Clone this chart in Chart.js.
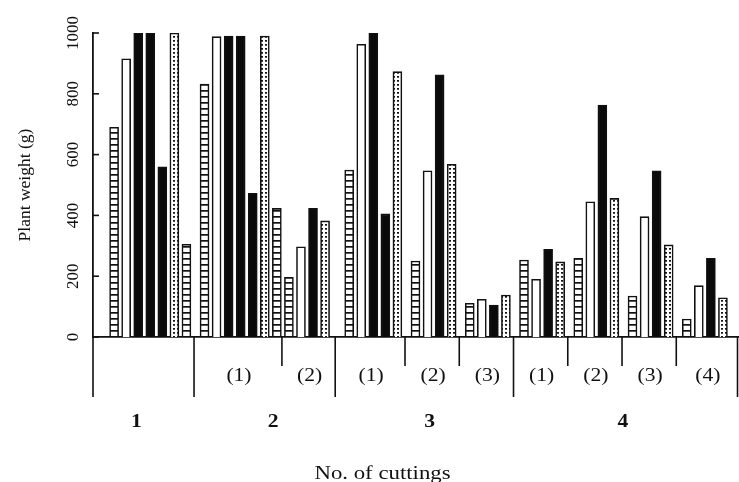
<!DOCTYPE html>
<html><head><meta charset="utf-8">
<script src="https://cdn.jsdelivr.net/npm/chart.js@4"></script>
<style>html,body{margin:0;padding:0;background:#fff}#wrap{width:739px;height:482px;position:relative}</style>
</head><body><div id="wrap"><canvas id="c" width="739" height="482" style="width:739px;height:482px"></canvas></div>
<script>
// ---- data ----
const cuttingLabels = ['1', '2', '3', '4'];
const subLabels = ['', '(1)', '(2)', '(1)', '(2)', '(3)', '(1)', '(2)', '(3)', '(4)'];
const groupCutting = [0, 1, 1, 2, 2, 2, 3, 3, 3, 3];
// bar fill kinds: S = horizontal-striped, O = open, B = solid black, D = dotted
const groupKinds = [
  ['S','O','B','B','B','D','S'],
  ['S','O','B','B','B','D','S'],
  ['S','O','B','D'],
  ['S','O','B','B','D'],
  ['S','O','B','D'],
  ['S','O','B','D'],
  ['S','O','B','D'],
  ['S','O','B','D'],
  ['S','O','B','D'],
  ['S','O','B','D']
];
const groupValues = [
  [690, 915, 1000, 1000, 560, 1000, 305],
  [832, 988, 990, 990, 473, 990, 423],
  [196, 297, 423, 382],
  [549, 963, 1000, 405, 873],
  [250, 547, 862, 568],
  [111, 124, 105, 138],
  [253, 190, 288, 247],
  [259, 445, 763, 456],
  [135, 396, 547, 303],
  [59, 169, 259, 129]
];
const yTicks = [0, 200, 400, 600, 800, 1000];
const yTitle = 'Plant weight (g)';
const xTitle = 'No. of cuttings';

// ---- layout of category slots (spacing only) ----
const LEAD = 3, STEP = 2, TRAIL = 2;
const GAPS = [3, 2, 4, 3, 3, 3, 3, 3, 3];
const slotLabels = [], slotValues = [], slotKinds = [];
const groupFirst = [], groupLast = [];
function pushSlot(v, k){ slotLabels.push('s' + slotLabels.length); slotValues.push(v); slotKinds.push(k); }
for (let i = 0; i < LEAD; i++) pushSlot(null, null);
groupValues.forEach((vals, g) => {
  if (g > 0) for (let i = 0; i < GAPS[g - 1] - 1; i++) pushSlot(null, null);
  vals.forEach((v, j) => {
    if (j > 0) for (let i = 0; i < STEP - 1; i++) pushSlot(null, null);
    if (j === 0) groupFirst.push(slotLabels.length);
    if (j === vals.length - 1) groupLast.push(slotLabels.length);
    pushSlot(v, groupKinds[g][j]);
  });
});
for (let i = 0; i < TRAIL; i++) pushSlot(null, null);

// ---- fills ----
function makePattern(kind){
  const c = document.createElement('canvas');
  const g = c.getContext('2d');
  if (kind === 'S') {
    c.width = 4; c.height = 6;
    g.fillStyle = '#fff'; g.fillRect(0, 0, 4, 6);
    g.fillStyle = '#111'; g.fillRect(0, 0, 4, 1.7);
  } else {
    c.width = 4; c.height = 4;
    g.fillStyle = '#fff'; g.fillRect(0, 0, 4, 4);
    g.fillStyle = '#111'; g.fillRect(1, 0, 2, 1.7);
  }
  return g.createPattern(c, 'repeat');
}
const ctx = document.getElementById('c').getContext('2d');
const fills = { S: makePattern('S'), D: makePattern('D'), O: '#ffffff', B: '#0a0a0a' };
const bg = slotKinds.map(k => k ? fills[k] : 'rgba(0,0,0,0)');

const SERIF = '"Liberation Serif", "DejaVu Serif", serif';

const decor = {
  id: 'decor',
  afterDraw(chart) {
    const c = chart.ctx, x = chart.scales.x, y = chart.scales.y, a = chart.chartArea;
    c.save();
    c.strokeStyle = '#111'; c.lineWidth = 1.6;
    // inward y ticks
    yTicks.forEach(v => {
      const py = y.getPixelForValue(v);
      c.beginPath(); c.moveTo(a.left, py); c.lineTo(a.left + 6, py); c.stroke();
    });
    // group boundaries
    const bounds = [a.left];
    for (let g = 0; g < groupFirst.length - 1; g++) {
      const p0 = x.getPixelForValue(groupLast[g]), p1 = x.getPixelForValue(groupFirst[g + 1]);
      bounds.push(p0 + (p1 - p0) * 0.42);
    }
    bounds.push(a.right - 0.5);
    const base = a.bottom;
    bounds.forEach((bx, i) => {
      const major = i === 0 || i === bounds.length - 1 || groupCutting[i] !== groupCutting[i - 1];
      c.beginPath(); c.moveTo(bx, base); c.lineTo(bx, base + (major ? 60 : 29)); c.stroke();
    });
    c.fillStyle = '#111';
    c.textAlign = 'center'; c.textBaseline = 'middle';
    function stretchText(t, px, py, font, sx) {
      c.save(); c.font = font; c.translate(px, py); c.scale(sx, 1); c.fillText(t, 0, 0); c.restore();
    }
    const centers = subLabels.map((t, g) => (bounds[g] + bounds[g + 1]) / 2);
    subLabels.forEach((t, g) => {
      if (!t) return;
      stretchText(t, centers[g] + 1, base + 39, '18px ' + SERIF, 1.2);
    });
    cuttingLabels.forEach((t, ci) => {
      const cs = centers.filter((_, g) => groupCutting[g] === ci);
      const cx = cs.reduce((s, v) => s + v, 0) / cs.length;
      stretchText(t, cx - (cs.length === 1 ? 7 : 0), base + 85, 'bold 18px ' + SERIF, 1.2);
    });
    c.textBaseline = 'alphabetic';
    stretchText(xTitle, (a.left + a.right) / 2 - 33, base + 142, '19px ' + SERIF, 1.2);
    c.restore();
  }
};

new Chart(ctx, {
  type: 'bar',
  data: {
    labels: slotLabels,
    datasets: [{
      data: slotValues,
      backgroundColor: bg,
      borderColor: '#111',
      borderWidth: 1.6,
      borderSkipped: 'bottom',
      barThickness: 9
    }]
  },
  options: {
    responsive: false,
    animation: false,
    devicePixelRatio: 1,
    layout: { padding: { top: 33, right: 1, left: 0, bottom: 0 } },
    plugins: { legend: { display: false }, tooltip: { enabled: false } },
    scales: {
      x: {
        type: 'category',
        offset: true,
        grid: { display: false },
        ticks: { display: false },
        border: { display: true, color: '#111', width: 1.8 },
        afterFit(s) { s.height = 145; }
      },
      y: {
        min: 0, max: 1000,
        afterBuildTicks(s) { s.ticks = yTicks.map(v => ({ value: v })); },
        grid: { display: false, drawTicks: false },
        border: { display: true, color: '#111', width: 1.8 },
        ticks: {
          color: '#111', padding: 2, minRotation: 90, maxRotation: 90, crossAlign: 'center',
          font: { family: SERIF, size: 17 },
          callback: v => String(v)
        },
        title: { display: true, text: yTitle, color: '#111', font: { family: SERIF, size: 17.5 }, padding: { top: 15, bottom: 0 } },
        afterFit(s) { s.width = 93; }
      }
    }
  },
  plugins: [decor]
});
</script>
</body></html>
